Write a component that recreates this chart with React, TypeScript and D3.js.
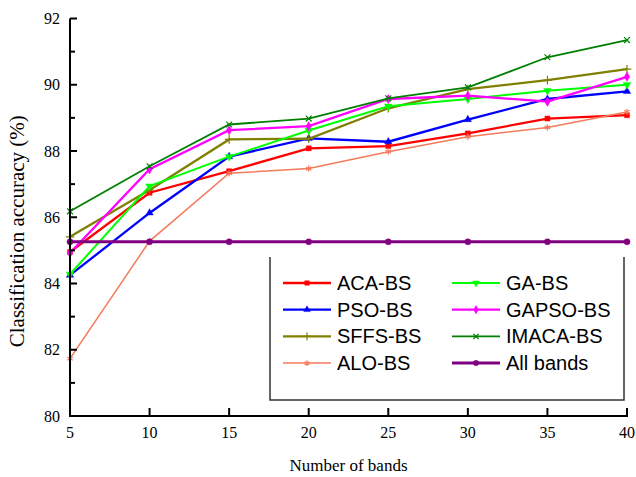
import React from 'react';
import * as d3 from 'd3';

const width = 636;
const height = 477;
const marginLeft = 70;
const marginRight = 9;
const marginTop = 18.5;
const marginBottom = 61;

const BANDS = [5, 10, 15, 20, 25, 30, 35, 40];
const ACA_BS = [84.95, 86.74, 87.39, 88.08, 88.15, 88.53, 88.98, 89.08];
const GA_BS = [84.28, 86.94, 87.83, 88.62, 89.35, 89.57, 89.82, 90.0];
const PSO_BS = [84.25, 86.13, 87.83, 88.38, 88.28, 88.95, 89.57, 89.8];
const GAPSO_BS = [84.92, 87.45, 88.63, 88.75, 89.57, 89.67, 89.49, 90.24];
const SFFS_BS = [85.41, 86.82, 88.35, 88.37, 89.29, 89.87, 90.14, 90.47];
const IMACA_BS = [86.18, 87.54, 88.8, 88.98, 89.59, 89.92, 90.83, 91.35];
const ALO_BS = [81.73, 85.28, 87.33, 87.47, 87.98, 88.43, 88.71, 89.18];
const ALL_BANDS = [85.26, 85.26, 85.26, 85.26, 85.26, 85.26, 85.26, 85.26];

const Y_TICKS = [80, 82, 84, 86, 88, 90, 92];
const Y_MINOR = [81, 83, 85, 87, 89, 91];
const X_TICKS = [5, 10, 15, 20, 25, 30, 35, 40];

const series = [
  { name: 'ACA-BS', values: ACA_BS, color: '#ff0000', width: 2.3, symbol: d3.symbolSquare, size: 26, stroke: false },
  { name: 'PSO-BS', values: PSO_BS, color: '#0000ff', width: 2.3, symbol: d3.symbolTriangle, size: 24, stroke: false },
  { name: 'SFFS-BS', values: SFFS_BS, color: '#808000', width: 2.3, symbol: d3.symbolPlus, size: 26, stroke: true },
  { name: 'ALO-BS', values: ALO_BS, color: '#f47a5c', width: 1.5, symbol: d3.symbolAsterisk, size: 28, stroke: true },
  { name: 'GA-BS', values: GA_BS, color: '#00ff00', width: 2, symbol: d3.symbolTriangle, size: 26, stroke: false, flip: true },
  { name: 'GAPSO-BS', values: GAPSO_BS, color: '#ff00ff', width: 2.3, symbol: d3.symbolDiamond, size: 26, stroke: false },
  { name: 'IMACA-BS', values: IMACA_BS, color: '#008000', width: 1.8, symbol: d3.symbolX, size: 24, stroke: true },
  { name: 'All bands', values: ALL_BANDS, color: '#800080', width: 3, symbol: d3.symbolCircle, size: 30, stroke: false },
];

const legendOrder = [
  ['ACA-BS', 'GA-BS'],
  ['PSO-BS', 'GAPSO-BS'],
  ['SFFS-BS', 'IMACA-BS'],
  ['ALO-BS', 'All bands'],
];

const x = d3.scaleLinear().domain([5, 40]).range([marginLeft, width - marginRight]);
const y = d3.scaleLinear().domain([80, 92]).range([height - marginBottom, marginTop]);

function Marker({ s, cx, cy, scale = 1 }) {
  const path = d3.symbol().type(s.symbol).size(s.size * scale)();
  return (
    <path
      d={path}
      transform={`translate(${cx},${cy})${s.flip ? ' rotate(180)' : ''}`}
      fill={s.stroke ? 'none' : s.color}
      stroke={s.color}
      strokeWidth={s.stroke ? 1.2 : 0.4}
    />
  );
}

export default function App() {
  const line = d3.line<number>()
    .x((d, i) => x(BANDS[i]))
    .y(d => y(d));

  const y0 = y(80);
  const serif = '"Liberation Serif", "Times New Roman", serif';
  const sans = '"Liberation Sans", Arial, sans-serif';

  return (
    <svg width={width} height={height} style={{ position: 'absolute', left: 0, top: 0, background: '#fff' }}>
      {series.map(s => (
        <g key={s.name}>
          <path d={line(s.values)} fill="none" stroke={s.color} strokeWidth={s.width} />
          {s.values.map((v, i) => (
            <Marker key={i} s={s} cx={x(BANDS[i])} cy={y(v)} />
          ))}
        </g>
      ))}

      {/* axes */}
      <g stroke="#000" strokeWidth={2}>
        <line x1={marginLeft} x2={marginLeft} y1={y(92)} y2={y0 + 1} />
        <line x1={marginLeft - 1} x2={x(40) + 1} y1={y0} y2={y0} />
        {Y_TICKS.map(t => <line key={t} x1={marginLeft} x2={marginLeft + 7} y1={y(t)} y2={y(t)} />)}
        {Y_MINOR.map(t => <line key={t} x1={marginLeft} x2={marginLeft + 5} y1={y(t)} y2={y(t)} />)}
        {X_TICKS.map(t => <line key={t} x1={x(t)} x2={x(t)} y1={y0} y2={y0 - 8} />)}
      </g>
      <g fontFamily={serif} fontSize={16} fill="#000">
        {Y_TICKS.map(t => (
          <text key={t} x={marginLeft - 10} y={y(t)} dy="0.35em" textAnchor="end">{t}</text>
        ))}
        {X_TICKS.map(t => (
          <text key={t} x={x(t)} y={y0 + 22} textAnchor="middle">{t}</text>
        ))}
      </g>
      <text x={(marginLeft + width - marginRight) / 2} y={471} textAnchor="middle"
        fontFamily={serif} fontSize={17}>Number of bands</text>
      <text transform={`translate(24,${(y(92) + y0) / 2 + 14}) rotate(-90)`} textAnchor="middle"
        fontFamily={serif} fontSize={21}>Classification accuracy (%)</text>

      {/* legend */}
      <path d="M270,257V400H624V257" fill="none" stroke="#333" strokeWidth={1.5} />
      {legendOrder.map((row, r) => row.map((name, c) => {
        const s = series.find(d => d.name === name);
        const ly = 283 + r * 26.7;
        const lx = c === 0 ? 283 : 452;
        return (
          <g key={name}>
            <line x1={lx} x2={lx + 48} y1={ly} y2={ly} stroke={s.color} strokeWidth={s.width} />
            <Marker s={s} cx={lx + 24} cy={ly} scale={0.8} />
            <text x={lx + 54} y={ly} dy="0.35em" fontFamily={sans} fontSize={20}>{name}</text>
          </g>
        );
      }))}
    </svg>
  );
}
